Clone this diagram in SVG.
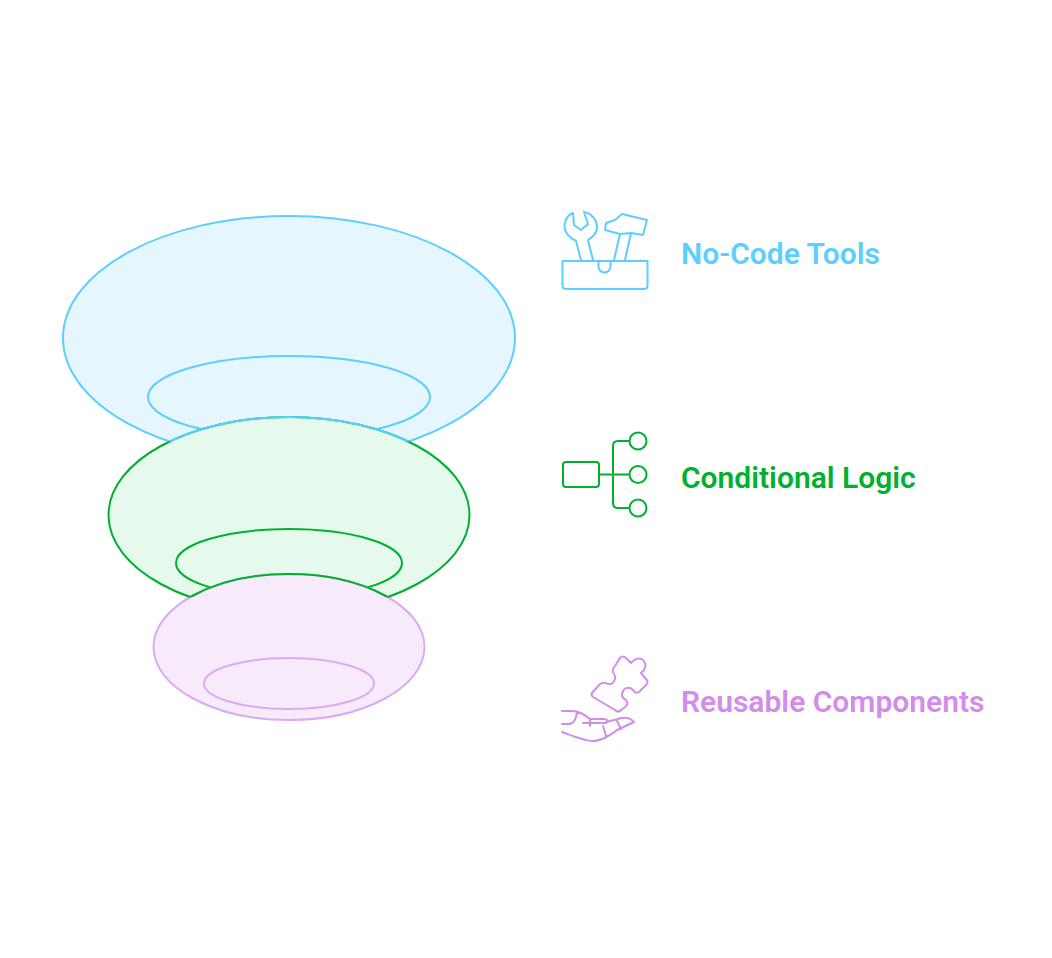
<svg xmlns="http://www.w3.org/2000/svg" width="1052" height="958" viewBox="0 0 1052 958">
<style>
.b{stroke:#5cceff}.g{stroke:#00b030}.p{stroke:#dcaaf0}
.s{stroke-width:2;fill:none;stroke-linecap:round;stroke-linejoin:round}
.t{font-family:Roboto,"Liberation Sans",sans-serif;font-size:30px;font-weight:600}
</style>
<defs>
<path id="blobB" d="M289 216C414 216 515 271 515 338C515 405 414 460 289 460C164 460 63 405 63 338C63 271 164 216 289 216Z"/>
<path id="blobG" d="M289 417C389 417 469.500 461 469.500 515C469.500 569 389 613 289 613C189 613 108.500 569 108.500 515C108.500 461 189 417 289 417Z"/>
<path id="blobP" d="M289 574C364 574 424.500 607 424.500 647C424.500 687 364 720 289 720C214 720 153.500 687 153.500 647C153.500 607 214 574 289 574Z"/>
<clipPath id="cb"><rect x="100" y="400" width="380" height="41.500"/></clipPath>
<clipPath id="cg"><rect x="150" y="560" width="280" height="37.500"/></clipPath>
</defs>
<rect width="1052" height="958" fill="#fff"/>
<g id="layer-blue">
<use href="#blobB" fill="#e5f6ff" stroke="#5cceff" stroke-width="2"/>
<ellipse cx="289" cy="397" rx="141" ry="41" fill="none" stroke="#5cceff" stroke-width="2"/>
</g>
<g id="layer-green">
<use href="#blobG" fill="#e5faed" stroke="#00b030" stroke-width="2"/>
<use href="#blobG" fill="none" stroke="#5cceff" stroke-width="2" clip-path="url(#cb)"/>
<ellipse cx="289" cy="563" rx="113" ry="34" fill="none" stroke="#00b030" stroke-width="2"/>
</g>
<g id="layer-purple">
<use href="#blobP" fill="#f7ebfb" stroke="#dcaaf0" stroke-width="2"/>
<use href="#blobP" fill="none" stroke="#00b030" stroke-width="2" clip-path="url(#cg)"/>
<ellipse cx="289" cy="683.500" rx="85" ry="25.500" fill="none" stroke="#dcaaf0" stroke-width="2"/>
</g>
<g id="icon-tools" class="s b">
<path d="M562.500 261H647.500V285.500Q647.500 289 644 289H566Q562.500 289 562.500 285.500Z"/>
<path d="M598.500 261V266.500A5.500 5.500 0 0 0 610.500 266.500V261"/>
<path d="M581 260L576 241C568 237 564 232 564.500 225C565 219 569 214 573 213L574 225L581 230L588 224L584 212C591 213 597 220 597 227C597 233 593 237 588 240L593 260"/>
<path d="M614 260L620 234L605 230L606 223L615 220L622 214L647 220L643 235L631 233L625 260M620 234L631 233"/>
</g>
<g id="icon-logic" class="s g">
<rect x="563" y="462" width="36" height="25" rx="3"/>
<path d="M599 474.500H629M629 441H618Q613 441 613 446V503Q613 508 618 508H629"/>
<circle cx="638" cy="441" r="8.500"/><circle cx="638" cy="474.500" r="8.500"/><circle cx="638" cy="508" r="8.500"/>
</g>
<g id="icon-components" class="s" stroke="#d38cec">
<path stroke="#d38cec" d="M592 693L600 684C603 682 605 682 608 684C613 685 616 680 615 676C612 672 612 668 615 666L620 658C622 656 624 656 626 658L631 663C635 658 641 657 644 661C647 665 645 670 641 673L646 679C648 681 648 683 646 685L640 691C637 694 635 693 633 690C630 687 625 687 623 691C621 695 622 698 626 700C628 703 628 705 625 707L621 710C619 712 617 712 615 710L593 697C591 695 591 694 592 693Z"/>
<path stroke="#d38cec" d="M562 711H572C579 711 583 714 590 719H604C607 719 609 721 606 723H583M562 724H569C574 724 576 720 577 712M590 719V726M606 722L618 719C623 717 630 717 634 722L617 730C610 736 600 741 593 741C585 741 573 736 562 732M603 726L606 736M617 721L621 729"/>
</g>
<g id="labels">
<text id="label-1" class="t" x="681" y="264" fill="#5cceff">No-Code Tools</text>
<text id="label-2" class="t" x="681" y="488" fill="#00b030">Conditional Logic</text>
<text id="label-3" class="t" x="681" y="712" fill="#d38cec">Reusable Components</text>
</g>
</svg>
